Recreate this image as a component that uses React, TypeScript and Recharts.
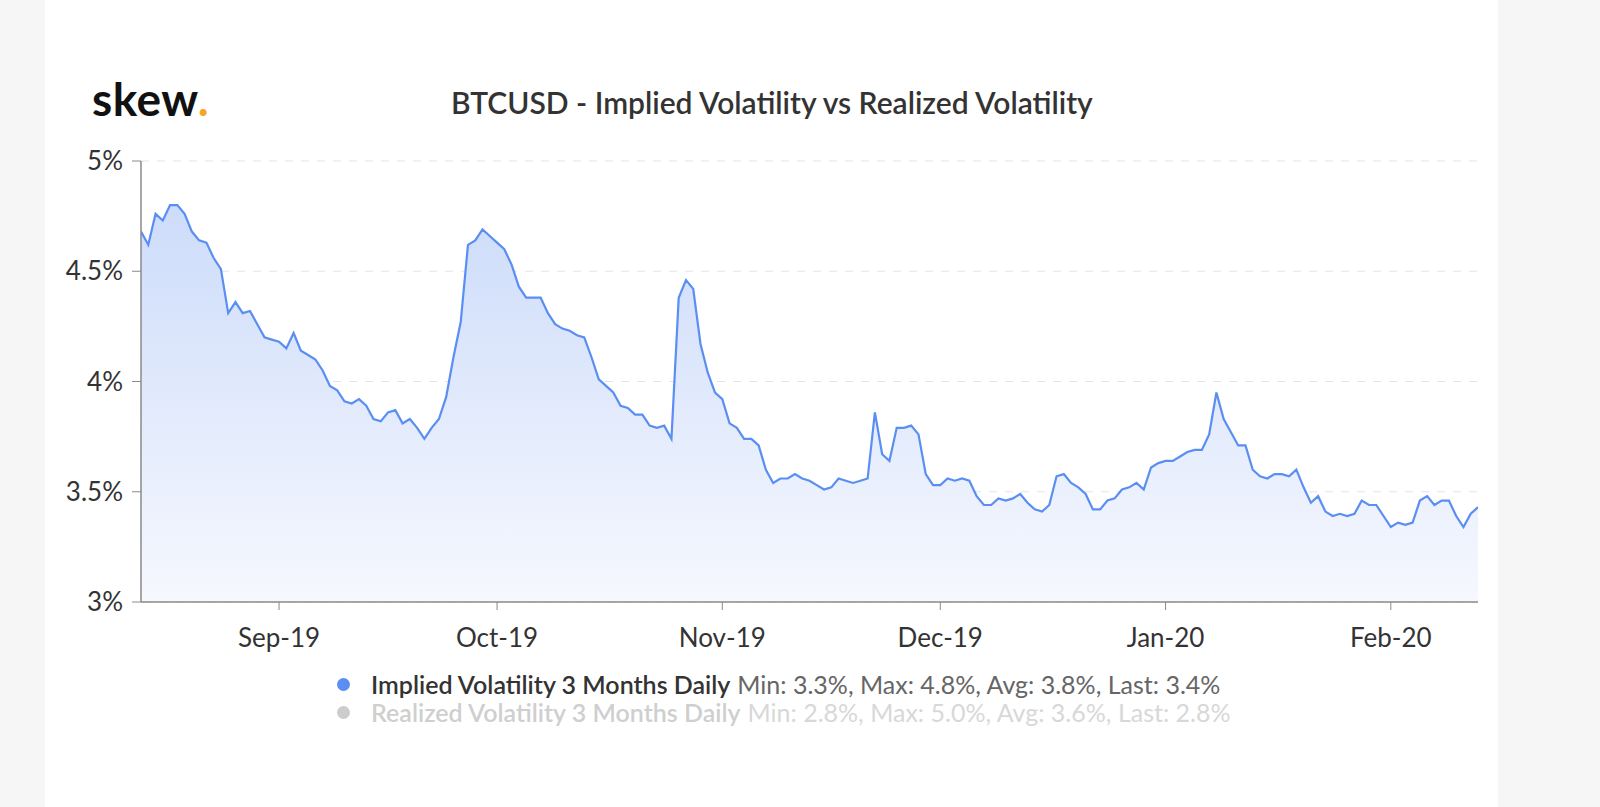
import React from 'react';
import { AreaChart, Area, XAxis, YAxis, CartesianGrid } from 'recharts';

// ---- data ----
const START_DATE = '2019-08-13';
const impliedVol3M: number[] = [
  4.68, 4.62, 4.76, 4.73, 4.80, 4.80, 4.76, 4.68, 4.64, 4.63,
  4.56, 4.51, 4.31, 4.36, 4.31, 4.32, 4.26, 4.20, 4.19, 4.18,
  4.15, 4.22, 4.14, 4.12, 4.10, 4.05, 3.98, 3.96, 3.91, 3.90,
  3.92, 3.89, 3.83, 3.82, 3.86, 3.87, 3.81, 3.83, 3.79, 3.74,
  3.79, 3.83, 3.93, 4.11, 4.27, 4.62, 4.64, 4.69, 4.66, 4.63,
  4.60, 4.53, 4.43, 4.38, 4.38, 4.38, 4.31, 4.26, 4.24, 4.23,
  4.21, 4.20, 4.11, 4.01, 3.98, 3.95, 3.89, 3.88, 3.85, 3.85,
  3.80, 3.79, 3.80, 3.74, 4.38, 4.46, 4.42, 4.17, 4.04, 3.95,
  3.92, 3.81, 3.79, 3.74, 3.74, 3.71, 3.60, 3.54, 3.56, 3.56,
  3.58, 3.56, 3.55, 3.53, 3.51, 3.52, 3.56, 3.55, 3.54, 3.55,
  3.56, 3.86, 3.67, 3.64, 3.79, 3.79, 3.80, 3.76, 3.58, 3.53,
  3.53, 3.56, 3.55, 3.56, 3.55, 3.48, 3.44, 3.44, 3.47, 3.46,
  3.47, 3.49, 3.45, 3.42, 3.41, 3.44, 3.57, 3.58, 3.54, 3.52,
  3.49, 3.42, 3.42, 3.46, 3.47, 3.51, 3.52, 3.54, 3.51, 3.61,
  3.63, 3.64, 3.64, 3.66, 3.68, 3.69, 3.69, 3.76, 3.95, 3.83,
  3.77, 3.71, 3.71, 3.60, 3.57, 3.56, 3.58, 3.58, 3.57, 3.60,
  3.52, 3.45, 3.48, 3.41, 3.39, 3.40, 3.39, 3.40, 3.46, 3.44,
  3.44, 3.39, 3.34, 3.36, 3.35, 3.36, 3.46, 3.48, 3.44, 3.46,
  3.46, 3.39, 3.34, 3.40, 3.43,
];
const monthTickDates = ['2019-09-01', '2019-10-01', '2019-11-01', '2019-12-01', '2020-01-01', '2020-02-01'];
const monthTickLabels = ['Sep-19', 'Oct-19', 'Nov-19', 'Dec-19', 'Jan-20', 'Feb-20'];
const yTicks = [3, 3.5, 4, 4.5, 5];

const legendNames = ['Implied Volatility 3 Months Daily', 'Realized Volatility 3 Months Daily'];
const legendStats = [
  'Min: 3.3%, Max: 4.8%, Avg: 3.8%, Last: 3.4%',
  'Min: 2.8%, Max: 5.0%, Avg: 3.6%, Last: 2.8%',
];

const TITLE = 'BTCUSD - Implied Volatility vs Realized Volatility';

// ---- build table ----
const DAY = 86400000;
const toMs = (s: string) => {
  const [y, m, d] = s.split('-').map(Number);
  return Date.UTC(y, m - 1, d);
};
const startMs = toMs(START_DATE);
const rows = impliedVol3M.map((v, i) => ({ t: startMs + i * DAY, iv: v }));
const tickMs = monthTickDates.map(toMs);
const fmtX = (v: number) => {
  const i = tickMs.indexOf(v);
  return i >= 0 ? monthTickLabels[i] : '';
};

const FONT = 'Lato, "Open Sans", sans-serif';
const LINE = '#5a8ef2';

export default function App() {
  return (
    <div style={{ position: 'absolute', left: 0, top: 0, width: 1600, height: 807, background: '#f6f6f6', fontFamily: FONT }}>
      <div style={{ position: 'absolute', left: 45, top: 0, width: 1453, height: 807, background: '#ffffff' }} />
      <div style={{ position: 'absolute', left: 92, top: 71, fontSize: 46, fontWeight: 700, color: '#111', letterSpacing: 0.5 }}>
        skew<span style={{ color: '#f5a623' }}>.</span>
      </div>
      <div style={{ position: 'absolute', left: 451, top: 84, fontSize: 30, fontWeight: 600, color: '#333', whiteSpace: 'nowrap' }}>
        {TITLE}
      </div>
      <div style={{ position: 'absolute', left: 0, top: 0 }}>
        <AreaChart width={1600} height={807} data={rows} margin={{ top: 161, right: 122, bottom: 165, left: 0 }}>
          <defs>
            <linearGradient id="ivFill" x1="0" y1="0" x2="0" y2="1">
              <stop offset="0%" stopColor="#cddcfa" stopOpacity={1} />
              <stop offset="100%" stopColor="#f6f8fe" stopOpacity={1} />
            </linearGradient>
          </defs>
          <CartesianGrid vertical={false} stroke="#e3e3e3" strokeDasharray="8 8" />
          <XAxis
            dataKey="t"
            type="number"
            domain={[rows[0].t, rows[rows.length - 1].t]}
            ticks={tickMs}
            tickFormatter={fmtX}
            height={40}
            axisLine={{ stroke: '#8a8a8a', strokeWidth: 1.5 }}
            tickLine={{ stroke: '#8a8a8a' }}
            tickSize={8}
            tickMargin={19}
            tick={{ fill: '#333', fontSize: 26, fontFamily: FONT }}
            allowDataOverflow
          />
          <YAxis
            domain={[3, 5]}
            ticks={yTicks}
            tickFormatter={(v: number) => `${v}%`}
            width={141}
            axisLine={{ stroke: '#8a8a8a', strokeWidth: 1.5 }}
            tickLine={{ stroke: '#8a8a8a' }}
            tickSize={9}
            tickMargin={9}
            tick={{ fill: '#333', fontSize: 26, fontFamily: FONT }}
            allowDataOverflow
          />
          <Area
            type="linear"
            dataKey="iv"
            stroke={LINE}
            strokeWidth={2.2}
            fill="url(#ivFill)"
            fillOpacity={1}
            dot={false}
            activeDot={false}
            isAnimationActive={false}
            baseValue={3}
          />
        </AreaChart>
      </div>
      {legendNames.map((name, i) => (
        <div
          key={name}
          style={{
            position: 'absolute',
            left: 337,
            top: i === 0 ? 670 : 698,
            height: 28,
            display: 'flex',
            alignItems: 'center',
            fontSize: 25,
            whiteSpace: 'nowrap',
          }}
        >
          <span style={{ display: 'inline-block', width: 13, height: 13, borderRadius: 7, background: i === 0 ? LINE : '#cccccc', marginRight: 21 }} />
          <span style={{ fontWeight: 600, color: i === 0 ? '#333' : '#cfcfcf' }}>{name}</span>
          <span style={{ color: i === 0 ? '#666' : '#d8d8d8', marginLeft: 7 }}>{legendStats[i]}</span>
        </div>
      ))}
    </div>
  );
}
